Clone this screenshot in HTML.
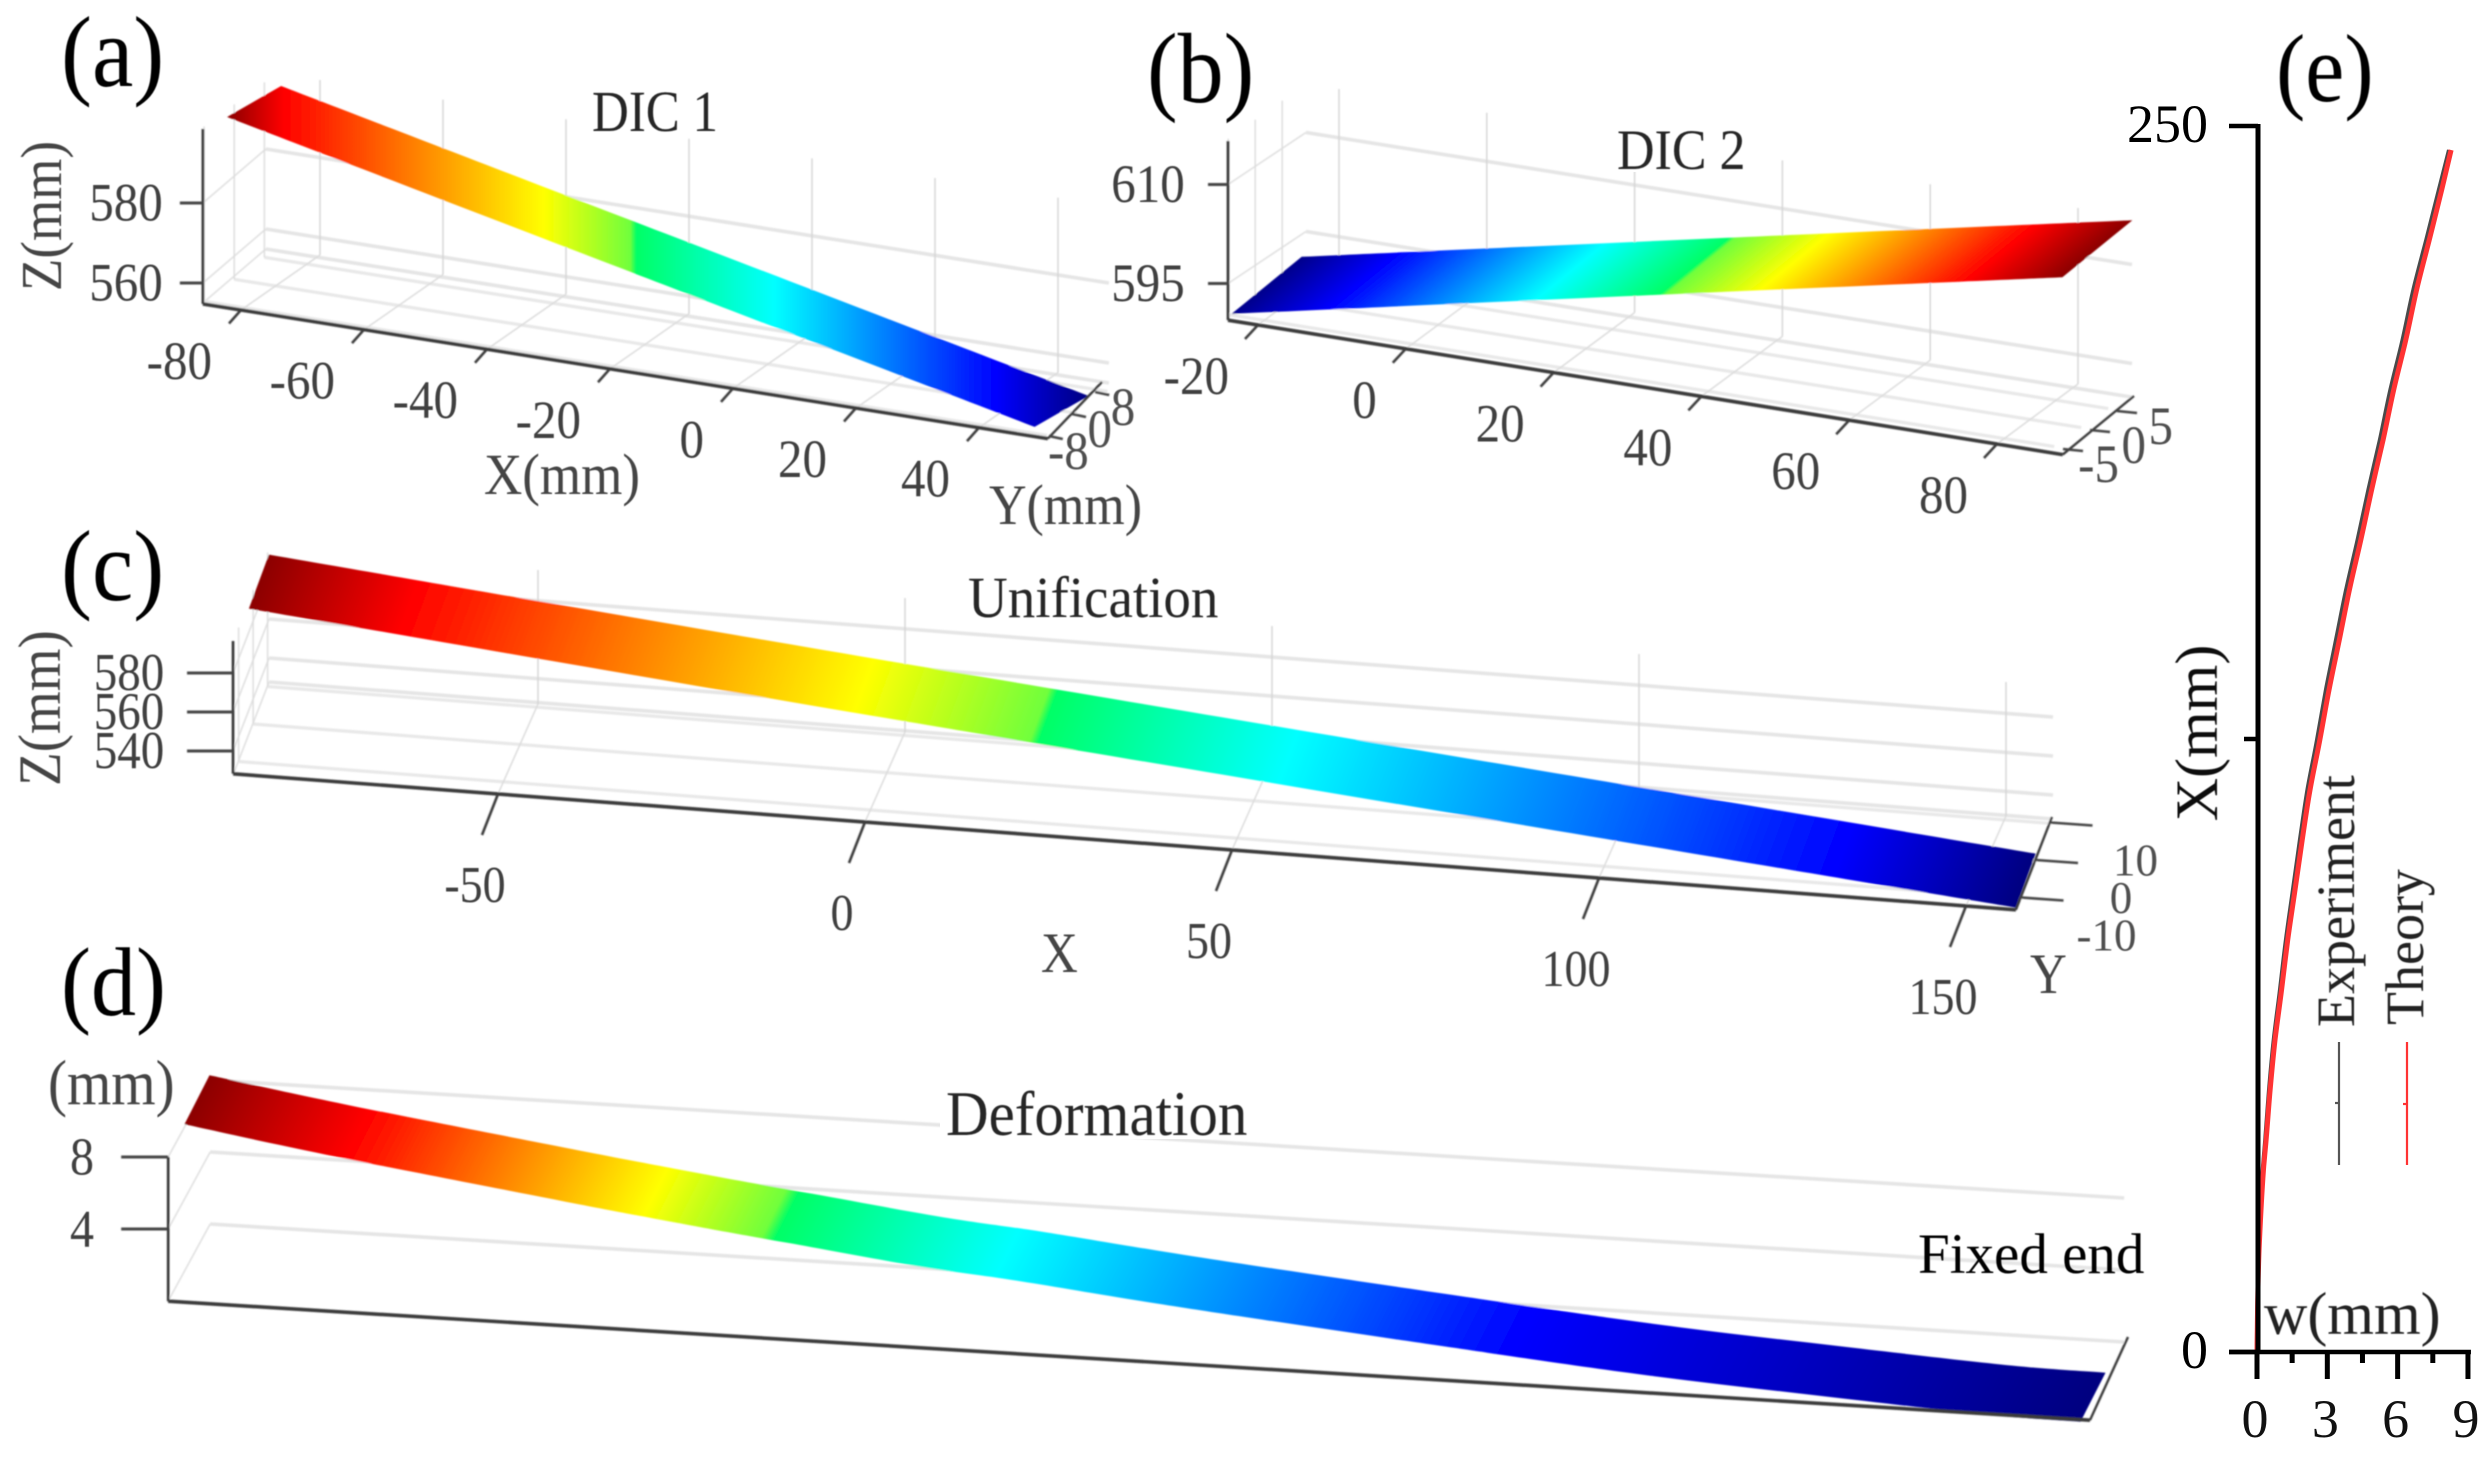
<!DOCTYPE html>
<html lang="en">
<head>
<meta charset="utf-8">
<title>DIC deformation chart</title>
<style>
html,body{margin:0;padding:0;background:#fff;}
svg{display:block;font-family:"Liberation Serif",serif;}
</style>
</head>
<body>
<svg id="chart" xmlns="http://www.w3.org/2000/svg" width="2491" height="1469" viewBox="0 0 2491 1469">
  <defs id="defs">
    <filter id="soft" filterUnits="userSpaceOnUse" x="0" y="0" width="2491" height="1469"><feGaussianBlur stdDeviation="0.9"/></filter>
    <filter id="softText" filterUnits="userSpaceOnUse" x="0" y="0" width="2491" height="1469"><feGaussianBlur stdDeviation="0.55"/></filter>
  </defs>
  <rect width="2491" height="1469" fill="#fff"/>
  <g id="plots" filter="url(#soft)"></g>
  <g id="ticktext" filter="url(#softText)"></g>
  <g id="curve"></g>

  <g fill="#fff">
    <rect x="1610" y="125" width="145" height="47"/>
    <rect x="940" y="1085" width="312" height="54"/>
  </g>

  <g filter="url(#softText)" fill="#262626">
    <text transform="translate(61,86) scale(1,1.08)" font-size="93" fill="#000">(a)</text>
    <text transform="translate(1147,102) scale(1,1.08)" font-size="92" fill="#000">(b)</text>
    <text transform="translate(61,600) scale(1,1.08)" font-size="93" fill="#000">(c)</text>
    <text transform="translate(61,1015) scale(1,1.08)" font-size="90" fill="#000">(d)</text>
    <text transform="translate(2276,101) scale(1,1.1)" font-size="88" fill="#000">(e)</text>

    <text transform="translate(592,131) scale(1,1.14)" font-size="51">DIC 1</text>
    <text transform="translate(1617,169) scale(1,1.1)" font-size="52">DIC 2</text>
    <text transform="translate(968,617) scale(1,1.06)" font-size="55">Unification</text>
    <text transform="translate(946,1135) scale(1,1.08)" font-size="59">Deformation</text>
    <text transform="translate(1918,1273)" font-size="57" fill="#000">Fixed end</text>

    <text transform="translate(61,216) rotate(-90) scale(1,1.1)" font-size="53" text-anchor="middle" fill="#444">Z(mm)</text>
    <text transform="translate(484,494) scale(1,1.1)" font-size="53" fill="#444">X(mm)</text>
    <text transform="translate(989,524) scale(1,1.1)" font-size="52" fill="#444">Y(mm)</text>
    <text transform="translate(60,708) rotate(-90) scale(1,1.1)" font-size="55" text-anchor="middle" fill="#444">Z(mm)</text>
    <text transform="translate(1041,972) scale(1,1.13)" font-size="51" fill="#444">X</text>
    <text transform="translate(2030,993) scale(1,1.13)" font-size="51" fill="#444">Y</text>
    <text transform="translate(48,1104) scale(1,1.12)" font-size="57" fill="#444">(mm)</text>

    <text transform="translate(2217,733) rotate(-90)" font-size="60" text-anchor="middle" fill="#111">X(mm)</text>
    <text transform="translate(2264,1334)" font-size="60" fill="#222">w(mm)</text>
    <text transform="translate(2354,1027) rotate(-90)" font-size="54" fill="#222">Experiment</text>
    <text transform="translate(2423,1025) rotate(-90)" font-size="54" fill="#222">Theory</text>
  </g>
</svg>

<script>
// ---- Colormap shared by surfaces ----
const jetColors = ['#8b0000', '#ff0000', '#ffff00', '#70ff3c', '#00ff66', '#00ffff', '#0000ff', '#00007f'];

// ---- Panel (a) DIC 1 ----
const aXTicks = [-80, -60, -40, -20, 0, 20, 40];
const aYTicks = [-8, 0, 8];
const aZTicks = [560, 580];
const aStripX = [-84.3, -20, 47];
const aStripZ = [599.2, 577, 553.9];
const aStops = [0, 0.066, 0.368, 0.468, 0.475, 0.635, 0.893, 1];

// ---- Panel (b) DIC 2 ----
const bXTicks = [-20, 0, 20, 40, 60, 80];
const bYTicks = [-5, 0, 5];
const bZTicks = [595, 610];
const bStripX = [-24.3, 40, 88.1];
const bStripZ = [590.6, 605.4, 616.4];
const bStopColors = ['#00008b', '#0000ff', '#00ffff', '#00ff66', '#70ff3c', '#ffff00', '#ff0000', '#8b0000'];
const bStopOffsets = [0, 0.115, 0.365, 0.515, 0.522, 0.635, 0.885, 1];

// ---- Panel (c) Unification ----
const cXTicks = [-50, 0, 50, 100, 150];
const cYTicks = [-10, 0, 10];
const cZTicks = [540, 560, 580];
const cStripX = [-85.3, 1, 155.4];
const cStripZ = [603.4, 572.4, 519.2];
const cStops = [0, 0.085, 0.343, 0.442, 0.447, 0.583, 0.897, 1];

// ---- Panel (d) Deformation ----
const dZTicks = [4, 8];
const dStripX = [0, 18.7, 49.6, 66.3, 79.5, 96.7, 110.2, 132.2, 171.8, 193.8, 215.7, 237.7, 250];
const dStripW = [9.9, 8.7, 6.95, 6.05, 5.39, 4.54, 4.06, 3.13, 1.69, 0.96, 0.44, -0.03, -0.1];
const dStops = [0, 0.087, 0.247, 0.31, 0.317, 0.434, 0.705, 1];

// ---- Panel (e) deflection curve ----
const eXValues = [0, 10.5, 21, 35.5, 43.2, 53.4, 63.6, 73.9, 84, 94.2, 104.4, 114.6, 124.8, 135, 145.2, 155.4, 165.6, 175.8, 186, 196.2, 206.4, 216.6, 226.8, 237, 245.1];
const eTheoryW = [0, 0.03, 0.09, 0.25, 0.39, 0.56, 0.77, 1.05, 1.31, 1.62, 1.93, 2.26, 2.68, 3.07, 3.51, 3.94, 4.43, 4.89, 5.38, 5.83, 6.35, 6.81, 7.35, 7.88, 8.28];
const eExperimentW = [0, 0.03, 0.08, 0.23, 0.36, 0.52, 0.72, 0.99, 1.24, 1.54, 1.84, 2.16, 2.57, 2.95, 3.38, 3.81, 4.3, 4.76, 5.25, 5.7, 6.22, 6.68, 7.23, 7.77, 8.2];
const eWMajorTicks = [0, 3, 6, 9];
const eWMinorTicks = [1.5, 4.5, 7.5];
const eXTicks = [0, 125, 250];
const eXTickLabels = ['0', '', '250'];

const NS = 'http://www.w3.org/2000/svg';
const plots = document.getElementById('plots');
const tickText = document.getElementById('ticktext');
const curve = document.getElementById('curve');
const defs = document.getElementById('defs');

function addLine(parent, name, x1, y1, x2, y2, stroke, width) {
  const el = document.createElementNS(NS, 'line');
  
  
  el.setAttribute('x1', x1);
  el.setAttribute('y1', y1);
  el.setAttribute('x2', x2);
  el.setAttribute('y2', y2);
  el.setAttribute('stroke', stroke);
  el.setAttribute('stroke-width', width);
  parent.appendChild(el);
  return el;
}

function addLabel(parent, name, str, x, y, size, sy, anchor, fill) {
  const el = document.createElementNS(NS, 'text');
  
  
  el.setAttribute('transform', 'translate(' + x + ',' + y + ') scale(1,' + sy + ')');
  el.setAttribute('font-size', size);
  el.setAttribute('text-anchor', anchor);
  el.setAttribute('fill', fill);
  el.textContent = str;
  parent.appendChild(el);
  return el;
}

// Smooth segment commands through the given points (Catmull-Rom to cubic Bezier)
function splineCommands(pts) {
  let d = '';
  for (let i = 0; i < pts.length - 1; i++) {
    const a = pts[Math.max(i - 1, 0)];
    const b = pts[i];
    const c = pts[i + 1];
    const e = pts[Math.min(i + 2, pts.length - 1)];
    const c1x = b[0] + (c[0] - a[0]) / 6;
    const c1y = b[1] + (c[1] - a[1]) / 6;
    const c2x = c[0] - (e[0] - b[0]) / 6;
    const c2y = c[1] - (e[1] - b[1]) / 6;
    d += ' C' + c1x.toFixed(1) + ' ' + c1y.toFixed(1) + ' ' + c2x.toFixed(1) + ' ' + c2y.toFixed(1) + ' ' + c[0].toFixed(1) + ' ' + c[1].toFixed(1);
  }
  return d;
}

function drawSurfacePanel(p) {
  const g = document.createElementNS(NS, 'g');
  
  
  plots.appendChild(g);

  const floorL = [p.xAt(p.xMin)[0], p.xAt(p.xMin)[1]];
  const floorR = [p.xAt(p.xMax)[0], p.xAt(p.xMax)[1]];
  const axisX = floorL[0];

  // back wall lines at each z tick and at the floor
  const wallLevels = p.zTicks.concat([p.zMin]);
  wallLevels.forEach(function (z) {
    const y0 = p.zAt(z);
    const x1 = axisX + p.wallShift[0];
    const y1 = y0 + p.wallShift[1];
    addLine(g, p.id + '-wall-side-line', axisX, y0, x1, y1, '#e0e0e0', 1.6);
    addLine(g, p.id + '-wall-back-line', x1, y1, x1 + p.xSpan[0], y1 + p.xSpan[1], '#e5e5e5', 3.6);
  });

  // floor lines along X at y ticks, with vertical wall lines
  p.yTicks.forEach(function (v) {
    const t = p.yAt(v);
    const ox = (t[0] - floorR[0]) * p.floorScale;
    const oy = t[1] - floorR[1];
    const sx = floorL[0] + ox;
    const sy = floorL[1] + oy;
    addLine(g, p.id + '-floor-line-y', sx, sy, sx + p.xSpan[0], sy + p.xSpan[1], '#e8e8e8', 3.2);
    if (p.wallHeight) {
      addLine(g, p.id + '-side-grid-y', sx, sy, sx, sy - p.wallHeight, '#dcdcdc', 1.4);
    }
  });

  // grid from X ticks
  p.xTicks.forEach(function (v) {
    const t = p.xAt(v);
    const bx = t[0] + p.backShift[0];
    const by = t[1] + p.backShift[1];
    addLine(g, p.id + '-floor-grid-x', t[0], t[1], bx, by, '#dcdcdc', 1.5);
    addLine(g, p.id + '-back-grid-x', bx, by, bx, by - p.wallHeight, '#d4d4d4', 1.4);
  });

  // surface strip
  const upper = [];
  const lower = [];
  p.stripX.forEach(function (x, i) {
    const b = p.xAt(x);
    const cx = b[0] + p.backShift[0] * 0.5;
    const cy = b[1] + p.backShift[1] * 0.5 - (p.stripZ[i] - p.zMin) * p.zScale;
    upper.push([cx + p.half[0], cy + p.half[1]]);
    lower.push([cx - p.half[0], cy - p.half[1]]);
  });
  const poly = upper.concat(lower.slice().reverse());
  const iso = p.iso || p.half;
  let n = [-iso[1], iso[0]];
  if (n[0] < 0) { n = [-n[0], -n[1]]; }
  const nn = n[0] * n[0] + n[1] * n[1];
  const p0 = lower[0];
  let tMin = Infinity;
  let tMax = -Infinity;
  poly.forEach(function (q) {
    const t = ((q[0] - p0[0]) * n[0] + (q[1] - p0[1]) * n[1]) / nn;
    tMin = Math.min(tMin, t);
    tMax = Math.max(tMax, t);
  });
  const grad = document.createElementNS(NS, 'linearGradient');
  grad.setAttribute('id', p.id + '-gradient');
  grad.setAttribute('gradientUnits', 'userSpaceOnUse');
  grad.setAttribute('x1', p0[0] + n[0] * tMin);
  grad.setAttribute('y1', p0[1] + n[1] * tMin);
  grad.setAttribute('x2', p0[0] + n[0] * tMax);
  grad.setAttribute('y2', p0[1] + n[1] * tMax);
  p.stops.forEach(function (o, i) {
    const s = document.createElementNS(NS, 'stop');
    s.setAttribute('offset', o);
    s.setAttribute('stop-color', p.colors[i]);
    grad.appendChild(s);
  });
  defs.appendChild(grad);
  const lowerRev = lower.slice().reverse();
  const strip = document.createElementNS(NS, 'path');
  
  
  strip.setAttribute('d', 'M' + upper[0][0].toFixed(1) + ' ' + upper[0][1].toFixed(1) + splineCommands(upper) +
    ' L' + lowerRev[0][0].toFixed(1) + ' ' + lowerRev[0][1].toFixed(1) + splineCommands(lowerRev) + ' Z');
  strip.setAttribute('fill', 'url(#' + p.id + '-gradient)');
  g.appendChild(strip);

  // axes
  addLine(g, p.id + '-z-axis', axisX, floorL[1], axisX, p.zAt(p.zMax), '#333', 2.6);
  addLine(g, p.id + '-x-axis', floorL[0], floorL[1], floorR[0], floorR[1], '#3a3a3a', 3.6);
  addLine(g, p.id + '-y-axis', floorR[0], floorR[1], p.yEnd[0], p.yEnd[1], '#3a3a3a', 2.4);

  // z ticks & labels
  p.zTicks.forEach(function (v) {
    const y = p.zAt(v);
    addLine(g, p.id + '-z-tick', axisX - p.zTickLen, y, axisX, y, '#444', 3);
    addLabel(tickText, p.id + '-z-tick-label', String(v), p.zLabelX, y + p.zLabelSize * 0.36, p.zLabelSize, p.labelSy, p.zAnchor, '#404040');
  });

  // x ticks & labels
  p.xTicks.forEach(function (v) {
    const t = p.xAt(v);
    addLine(g, p.id + '-x-tick', t[0], t[1], t[0] + p.xTickVec[0], t[1] + p.xTickVec[1], '#3c3c3c', 2.6);
    addLabel(tickText, p.id + '-x-tick-label', String(v), t[0] + p.xLabelOff[0], t[1] + p.xLabelOff[1], p.xLabelSize, p.labelSy, p.xAnchor, '#404040');
  });

  // y ticks & labels
  p.yTicks.forEach(function (v) {
    const t = p.yAt(v);
    addLine(g, p.id + '-y-tick', t[0], t[1], t[0] + p.yTickVec[0], t[1] + p.yTickVec[1], '#444', 2.6);
    if (p.yLabelOff) {
      addLabel(tickText, p.id + '-y-tick-label', String(v), t[0] + p.yLabelOff[0], t[1] + p.yLabelOff[1], p.yLabelSize, p.yLabelSy, p.yAnchor, '#505050');
    }
  });
}

drawSurfacePanel({
  id: 'a', xTicks: aXTicks, yTicks: aYTicks, zTicks: aZTicks, stripX: aStripX, stripZ: aStripZ,
  xAt: function (v) { return [241 + (v + 80) * 6.15, 310 + (v + 80) * 0.98]; },
  zAt: function (v) { return 203 + (580 - v) * 4; },
  yAt: function (v) { return [1072 + v * 2.9, 414 - v * 2.75]; },
  xMin: -86.2, xMax: 51.2, zMin: 555, zMax: 598.5, zScale: 4,
  yEnd: [1102, 382], floorScale: 1.3,
  backShift: [79, -55], wallHeight: 175, wallShift: [63, -54], xSpan: [843, 134],
  half: [27, -15.5], iso: [0, 1], stops: aStops, colors: jetColors,
  zTickLen: 23, zLabelX: 126, zLabelSize: 49, zAnchor: 'middle', labelSy: 1.1,
  xTickVec: [-12, 13.5], xLabelOff: [-29, 69], xLabelSize: 49, xAnchor: 'end',
  yTickVec: [14, 3], yLabelOff: [40, 33], yLabelSize: 49, yLabelSy: 1.1, yAnchor: 'end'
});

drawSurfacePanel({
  id: 'b', xTicks: bXTicks, yTicks: bYTicks, zTicks: bZTicks, stripX: bStripX, stripZ: bStripZ,
  xAt: function (v) { return [1258 + (v + 20) * 7.39, 325 + (v + 20) * 1.19]; },
  zAt: function (v) { return 184.5 + (610 - v) * 6.6; },
  yAt: function (v) { return [2090 + v * 5.4, 430 - v * 3.8]; },
  xMin: -24.06, xMax: 88.9, zMin: 589.9, zMax: 616.6, zScale: 6.6,
  yEnd: [2134, 396], floorScale: 1,
  backShift: [81, -60], wallHeight: 176, wallShift: [78, -52], xSpan: [826, 132],
  half: [35, -28.5], stops: bStopOffsets, colors: bStopColors,
  zTickLen: 20, zLabelX: 1148, zLabelSize: 49, zAnchor: 'middle', labelSy: 1.1,
  xTickVec: [-13, 14], xLabelOff: [-29, 69], xLabelSize: 49, xAnchor: 'end',
  yTickVec: [20, 2], yLabelOff: [56, 33], yLabelSize: 49, yLabelSy: 1.1, yAnchor: 'end'
});

drawSurfacePanel({
  id: 'c', xTicks: cXTicks, yTicks: cYTicks, zTicks: cZTicks, stripX: cStripX, stripZ: cStripZ,
  xAt: function (v) { return [865 + v * 7.34, 822 + v * 0.56]; },
  zAt: function (v) { return 673 + (580 - v) * 1.95; },
  yAt: function (v) { return [2036 + v * 1.45, 860 - v * 3.75]; },
  xMin: -86.1, xMax: 156.8, zMin: 527.7, zMax: 596.4, zScale: 1.95,
  yEnd: [2052, 817], floorScale: 1,
  backShift: [40, -90], wallHeight: 134, wallShift: [36, -93], xSpan: [1784, 137],
  half: [10, -27], stops: cStops, colors: jetColors,
  zTickLen: 46, zLabelX: 129, zLabelSize: 47, zAnchor: 'middle', labelSy: 1.12,
  xTickVec: [-16, 41], xLabelOff: [-23, 108], xLabelSize: 46, xAnchor: 'middle',
  yTickVec: [42, 3], yLabelOff: [85, 53], yLabelSize: 45, yLabelSy: 1, yAnchor: 'middle'
});

drawSurfacePanel({
  id: 'd', xTicks: [], yTicks: [], zTicks: dZTicks, stripX: dStripX, stripZ: dStripW,
  xAt: function (v) { return [197 + v * 7.584, 1303 + v * 0.4695]; },
  zAt: function (v) { return 1301 - v * 18; },
  yAt: function (v) { return [2090 + v, 1420 - v]; },
  xMin: -3.8, xMax: 249.6, zMin: 0, zMax: 8, zScale: 18,
  yEnd: [2128, 1337], floorScale: 1,
  backShift: [0, -50], wallHeight: 0, wallShift: [42, -77], xSpan: [1914, 118],
  half: [12.5, -24.5], stops: dStops, colors: jetColors,
  zTickLen: 47, zLabelX: 82, zLabelSize: 48, zAnchor: 'middle', labelSy: 1.1,
  xTickVec: [0, 0], xLabelOff: [0, 0], xLabelSize: 46, xAnchor: 'middle',
  yTickVec: [0, 0], yLabelSize: 45, yLabelSy: 1, yAnchor: 'middle'
});

// ---- Panel (e) ----
function wToPx(w) { return 2257 + w * 23.44; }
function xToPy(x) { return 1352 - x * 4.904; }

function addCurve(name, wValues, stroke, width) {
  const pts = eXValues.map(function (x, i) { return [wToPx(wValues[i]), xToPy(x)]; });
  const el = document.createElementNS(NS, 'path');
  
  
  el.setAttribute('fill', 'none');
  el.setAttribute('stroke', stroke);
  el.setAttribute('stroke-width', width);
  el.setAttribute('d', 'M' + pts[0][0].toFixed(1) + ' ' + pts[0][1].toFixed(1) + splineCommands(pts));
  curve.appendChild(el);
}

addCurve('experiment-curve', eExperimentW, '#4a4a4a', 4.5);
addCurve('theory-curve', eTheoryW, '#ff3333', 5);

addLine(curve, 'e-y-axis', 2258, xToPy(250) - 2, 2258, xToPy(0) + 2, '#000', 5);
addLine(curve, 'e-x-axis', 2229, xToPy(0), wToPx(9) + 3, xToPy(0), '#000', 4.5);
eXTicks.forEach(function (v, i) {
  const y = xToPy(v);
  const left = i === 1 ? 2244 : 2229;
  addLine(curve, 'e-y-tick', left, y, 2258, y, '#000', 4.5);
  if (eXTickLabels[i]) {
    addLabel(curve, 'e-y-tick-label', eXTickLabels[i], 2208, y + 16, 54, 1, 'end', '#000');
  }
});
eWMajorTicks.forEach(function (v) {
  const x = wToPx(v);
  addLine(curve, 'e-w-major-tick', x, xToPy(0), x, 1379, '#000', 5);
  addLabel(curve, 'e-w-tick-label', String(v), x - 2, 1437, 54, 1, 'middle', '#111');
});
eWMinorTicks.forEach(function (v) {
  const x = wToPx(v);
  addLine(curve, 'e-w-minor-tick', x, xToPy(0), x, 1363, '#000', 5);
});

addLine(curve, 'legend-line-experiment', 2339, 1042, 2339, 1165, '#555', 2.2);
addLine(curve, 'legend-marker-experiment', 2335, 1103, 2339, 1103, '#555', 2.2);
addLine(curve, 'legend-line-theory', 2407, 1042, 2407, 1165, '#ff3333', 2.2);
addLine(curve, 'legend-marker-theory', 2403, 1104, 2407, 1104, '#ff3333', 2.2);
</script>
</body>
</html>
